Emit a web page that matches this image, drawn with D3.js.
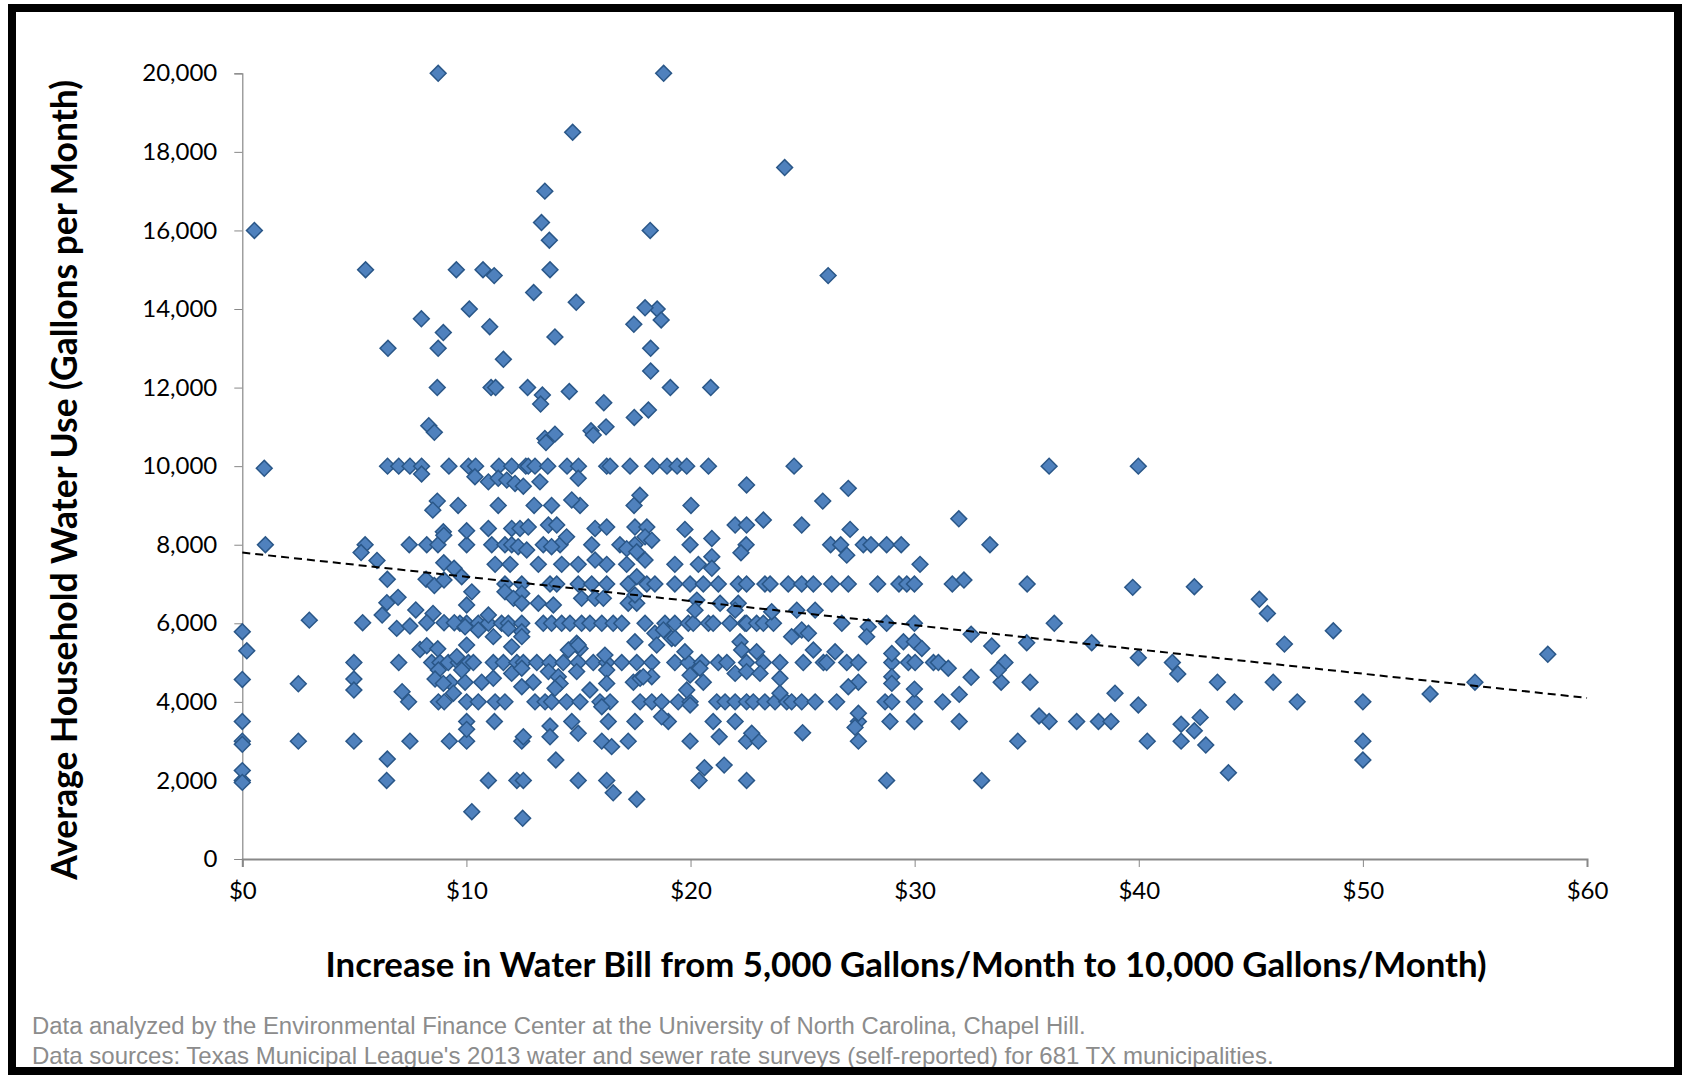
<!DOCTYPE html>
<html>
<head>
<meta charset="utf-8">
<script src="https://cdnjs.cloudflare.com/ajax/libs/d3/7.8.5/d3.min.js"></script>
<style>
  body { margin: 0; background: #fff; }
  svg { display: block; }
</style>
</head>
<body>
<svg id="chart"></svg>
<script>

// bill increase ($) of towns sitting exactly on a round usage level
var at20000 = [8.74, 18.8];
var at16000 = [0.54, 18.2];
var at15000 = [5.5, 9.55, 10.74, 13.73];
var at14000 = [10.13, 18.51];
var at13000 = [6.5, 8.74, 18.22];
var at12000 = [8.7, 11.1, 11.3, 12.73, 19.1, 20.9];
var at10000 = [6.48, 6.98, 7.48, 8.0, 9.22, 10.09, 10.41, 11.45, 12.02, 12.65, 12.76, 13.06, 13.63, 14.49, 15.0,
    16.26, 16.41, 17.3, 18.31, 18.95, 19.4, 19.83, 20.8, 24.62, 36.0, 39.98];
var at9000 = [9.63, 11.42, 13.02, 13.8, 15.07, 17.48, 20.02];
var at8000 = [1.03, 5.48, 7.45, 8.23, 8.73, 10.01, 11.13, 11.72, 12.02, 13.43, 14.18, 15.59, 16.85, 17.52, 19.98,
    22.48, 26.25, 26.7, 27.71, 28.05, 28.75, 29.4, 33.36];
var at7500 = [11.28, 11.95, 13.21, 14.25, 14.99, 16.26, 17.15, 19.3, 20.35, 30.24];
var at7000 = [11.72, 12.47, 13.73, 14.03, 14.99, 15.59, 16.26, 17.22, 18.05, 18.41, 19.3, 19.98, 20.57, 21.24,
    22.13, 22.5, 23.32, 23.55, 24.36, 24.96, 25.48, 26.3, 27.04, 28.35, 29.3, 29.65, 29.99, 31.68, 35.02];
var at6000 = [9.71, 10.01, 10.53, 10.98, 11.57, 11.87, 12.47, 13.43, 13.8, 14.25, 14.62, 15.14, 15.51, 16.04,
    16.55, 16.93, 17.97, 18.86, 19.3, 19.9, 20.12, 20.8, 21.01, 21.76, 22.43, 22.5, 22.95, 23.25, 23.7, 26.75,
    28.75, 29.99, 36.23];
var at5000 = [4.98, 6.98, 8.45, 8.82, 9.19, 9.64, 10.09, 10.31, 11.2, 11.65, 12.25, 12.54, 13.14, 13.73, 14.32,
    14.99, 15.66, 16.26, 16.93, 17.6, 18.27, 19.3, 19.9, 20.5, 21.24, 21.62, 22.5, 23.25, 23.99, 25.03, 25.93,
    26.07, 26.97, 27.49, 28.98, 29.72, 30.02, 30.84, 31.06, 34.03, 41.5];
var at4500 = [9.27, 9.94, 10.68, 12.98, 17.45, 20.57, 27.49, 33.86, 35.15, 43.51, 46.0, 55.0];
var at4000 = [7.42, 8.75, 9.01, 10.01, 10.53, 11.28, 11.72, 13.06, 13.51, 13.8, 14.47, 15.07, 15.96, 16.41, 17.75,
    18.27, 18.71, 19.45, 19.98, 21.17, 21.54, 21.99, 22.5, 22.8, 23.32, 23.77, 24.29, 24.51, 24.96, 25.56, 26.52,
    28.68, 28.98, 29.99, 31.25, 44.27, 47.07, 50.0];
var at3500 = [0, 10.01, 11.25, 14.7, 16.33, 17.52, 19.01, 21.01, 21.99, 27.49, 28.9, 29.99, 31.99, 36.0, 37.23,
    38.2, 38.76];
var at3000 = [0, 2.5, 4.98, 7.48, 9.24, 10.01, 12.47, 16.04, 17.22, 19.98, 22.5, 23.03, 27.49, 34.6, 40.38,
    41.89, 50.0];
var at2000 = [0, 6.44, 10.98, 12.25, 12.54, 14.99, 16.26, 20.38, 22.5, 28.75, 32.99];

// the rest: [bill increase $, gallons per month]
var scatterHigh = [[14.74, 18500], [24.2, 17600], [13.5, 17000], [13.35, 16200], [13.7, 15750], [11.24, 14850],
    [26.14, 14850], [13.0, 14420], [14.9, 14170], [17.97, 14030], [18.69, 13720], [17.47, 13610], [7.99, 13750],
    [8.97, 13400], [11.04, 13550], [13.95, 13290], [11.65, 12720], [18.22, 12420], [14.59, 11900],
    [13.39, 11810], [13.31, 11580], [16.13, 11615], [17.49, 11240], [18.12, 11430], [13.5, 10705], [13.55, 10600],
    [13.95, 10815], [15.56, 10900], [15.66, 10790], [16.23, 11000], [8.32, 11030], [8.57, 10860]];

var scatterMid = [[0.98, 9945], [8.0, 9800], [10.38, 9730], [10.98, 9600], [11.42, 9690], [11.8, 9645],
    [12.17, 9560], [12.54, 9490], [13.28, 9600], [14.99, 9690], [22.5, 9520], [27.04, 9435],
    [8.7, 9110], [8.5, 8880], [14.7, 9140], [17.74, 9260], [25.9, 9110],
    [8.97, 8330], [8.99, 8240], [10.01, 8355], [10.98, 8415], [12.02, 8415], [12.39, 8415], [12.76, 8450],
    [13.66, 8500], [14.03, 8500], [15.74, 8415], [16.26, 8450], [17.52, 8450], [18.05, 8450], [19.75, 8390],
    [21.99, 8500], [22.5, 8500], [23.25, 8630], [24.96, 8500], [27.12, 8390], [31.97, 8660],
    [12.31, 7950], [12.69, 7865], [13.8, 7950], [14.47, 8200], [17.15, 7900], [17.97, 8200], [18.27, 8115],
    [17.6, 7820], [20.95, 8160], [22.25, 7795], [26.97, 7735], [5.3, 7800],
    [6.01, 7600], [8.99, 7540], [9.45, 7400], [15.74, 7610], [17.97, 7610], [20.95, 7695], [20.95, 7400],
    [6.47, 7120], [8.2, 7120], [8.57, 6960], [9.0, 7100], [9.79, 7185], [17.6, 7185], [32.2, 7100],
    [6.95, 6660], [6.45, 6525], [6.24, 6210], [7.74, 6340], [8.51, 6250],
    [10.24, 6800], [11.72, 6800], [12.47, 6760], [12.1, 6635], [12.47, 6510], [13.21, 6510], [13.88, 6465],
    [15.14, 6635], [15.74, 6635], [16.11, 6635], [17.22, 6510], [17.6, 6510], [17.52, 6720], [10.01, 6465],
    [20.28, 6590], [20.2, 6335], [21.32, 6510], [22.13, 6510], [21.99, 6335], [23.62, 6295], [24.74, 6335],
    [25.56, 6335], [10.98, 6210], [39.73, 6915], [42.48, 6930], [45.38, 6610], [45.74, 6250],
    [2.99, 6080], [5.37, 6015], [8.23, 6015], [9.0, 6015], [9.46, 6015]];

var scatterLow = [[6.89, 5870], [7.48, 5930], [9.94, 5910], [10.53, 5830], [11.87, 5870], [12.47, 5785],
    [0, 5785], [27.93, 5910], [27.86, 5660], [48.68, 5810],
    [11.2, 5660], [12.02, 5400], [12.47, 5660], [14.92, 5490], [15.07, 5360], [17.52, 5530], [18.41, 5745],
    [18.49, 5445], [19.16, 5615], [18.79, 5830], [10.01, 5445], [19.31, 5620], [24.51, 5660], [24.96, 5830],
    [25.26, 5745], [22.21, 5530], [25.48, 5320], [26.45, 5275], [19.75, 5275], [22.28, 5320], [22.95, 5275],
    [28.98, 5230], [29.5, 5530], [29.99, 5530], [30.32, 5360], [32.52, 5720], [33.44, 5420], [35.0, 5505],
    [37.9, 5505], [46.5, 5470], [58.25, 5210], [39.98, 5125],
    [0.2, 5300], [7.93, 5335], [8.23, 5430], [8.72, 5350], [9.57, 5150], [14.55, 5320], [14.99, 5445],
    [16.18, 5190],
    [8.75, 4810], [9.79, 4810], [12.02, 4725], [12.47, 4855], [13.66, 4770], [14.1, 4640], [14.92, 4770],
    [16.26, 4810], [17.75, 4600], [18.27, 4640], [19.98, 4680], [20.42, 4855], [21.99, 4725], [22.5, 4770],
    [23.1, 4725], [23.99, 4600], [28.98, 4640], [31.5, 4855], [33.73, 4810], [32.52, 4625], [41.74, 4710],
    [0, 4570], [2.5, 4460], [4.98, 4580], [8.6, 4580], [8.97, 4470], [11.2, 4600], [14.18, 4470],
    [16.26, 4470], [17.89, 4640], [28.98, 4470],
    [13.95, 4345], [12.47, 4385], [15.51, 4300], [27.04, 4385], [29.99, 4325], [19.83, 4300], [4.98, 4300],
    [7.13, 4260], [9.42, 4220], [23.99, 4220], [31.99, 4190], [38.94, 4220], [53.0, 4200],
    [16.04, 3875], [19.98, 3920], [39.98, 3920], [18.71, 3620], [27.49, 3710], [35.55, 3640], [42.74, 3605],
    [13.73, 3385], [27.34, 3350], [41.89, 3430], [42.48, 3265], [10.01, 3300], [14.99, 3200], [22.73, 3200],
    [25.0, 3215], [12.54, 3110], [13.73, 3110], [21.28, 3110],
    [0, 2920], [16.48, 2860], [42.99, 2900], [6.47, 2545], [13.99, 2520], [50.0, 2520], [20.62, 2325],
    [21.5, 2390], [0, 2250], [44.0, 2195], [0, 1950], [16.55, 1685], [17.6, 1520], [10.24, 1205],
    [12.51, 1035]];

// linear trendline as drawn in the chart (ends at $0 and $60)
var trendX = [0, 60];
var trendY = [7800, 4100];

var xTicks = [0, 10, 20, 30, 40, 50, 60];
var yTicks = [0, 2000, 4000, 6000, 8000, 10000, 12000, 14000, 16000, 18000, 20000];

var xTitle = "Increase in Water Bill from 5,000 Gallons/Month to 10,000 Gallons/Month)";
var yTitle = "Average Household Water Use (Gallons per Month)";
var notes = ["Data analyzed by the Environmental Finance Center at the University of North Carolina, Chapel Hill.",
    "Data sources: Texas Municipal League's 2013 water and sewer rate surveys (self-reported) for 681 TX municipalities."];


var svgWidth = 1683;
var svgHeight = 1078;
var font = "Lato, 'Open Sans', sans-serif";

var levels = [[20000, at20000], [16000, at16000], [15000, at15000], [14000, at14000], [13000, at13000],
    [12000, at12000], [10000, at10000], [9000, at9000], [8000, at8000], [7500, at7500], [7000, at7000],
    [6000, at6000], [5000, at5000], [4500, at4500], [4000, at4000], [3500, at3500], [3000, at3000],
    [2000, at2000]];

var data = [];
levels.forEach(function(l) {
    l[1].forEach(function(b) { data.push({bill: b, use: l[0]}); });
});
scatterHigh.concat(scatterMid, scatterLow).forEach(function(p) {
    data.push({bill: p[0], use: p[1]});
});

var xScale = d3.scaleLinear().domain([0, 60]).range([242.3, 1587]);
var yScale = d3.scaleLinear().domain([0, 20000]).range([859, 73.3]);

var svg = d3.select('#chart')
    .attr("width", svgWidth)
    .attr("height", svgHeight);

svg.append("rect")
    .attr("width", svgWidth)
    .attr("height", svgHeight)
    .attr("fill", "#fff");

//y axis
var yAxis = svg.append("g")
    .attr("transform", "translate(" + xScale(0) + ",0)")
    .call(d3.axisLeft(yScale).tickValues(yTicks).tickSize(8).tickPadding(17).tickFormat(d3.format(",")));

//x axis
var xAxis = svg.append("g")
    .attr("transform", "translate(0," + yScale(0) + ")")
    .call(d3.axisBottom(xScale).tickValues(xTicks).tickSize(8).tickPadding(15).tickFormat(function(d) { return "$" + d; }));

svg.selectAll(".domain, .tick line").attr("stroke", "#888");
yAxis.select(".domain").attr("stroke-width", 1.2);
xAxis.select(".domain").attr("stroke-width", 2);
svg.selectAll(".tick text")
    .attr("fill", "#000")
    .style("font-family", font)
    .style("font-size", "24px");

//points
var diamond = d3.symbol().type(d3.symbolSquare).size(125);

svg.append("g")
    .selectAll("path")
    .data(data)
    .enter()
    .append("path")
    .attr("d", diamond)
    .attr("transform", function(d) {
        return "translate(" + xScale(d.bill) + "," + yScale(d.use) + ") rotate(45)";
    })
    .attr("fill", "#4F81BD")
    .attr("stroke", "#2A5788")
    .attr("stroke-width", 1.5);

//trendline
var line = d3.line()
    .x(function(d) { return xScale(d[0]); })
    .y(function(d) { return yScale(d[1]); });

svg.append("path")
    .attr("d", line(d3.zip(trendX, trendY)))
    .attr("fill", "none")
    .attr("stroke", "#000")
    .attr("stroke-width", 2)
    .attr("stroke-dasharray", "8,5");

// shrink or grow a text so that it spans the given width
function fitText(sel, width, size) {
    sel.style("font-size", size + "px");
    var len = sel.node().getComputedTextLength();
    sel.style("font-size", (size * width / len) + "px");
}

var xt = svg.append("text")
    .attr("x", 906)
    .attr("y", 977)
    .attr("text-anchor", "middle")
    .style("font-family", font)
    .style("font-weight", "bold")
    .text(xTitle);
fitText(xt, 1161, 31);

var yt = svg.append("text")
    .attr("transform", "translate(77,480) rotate(-90)")
    .attr("text-anchor", "middle")
    .style("font-family", font)
    .style("font-weight", "bold")
    .text(yTitle);
fitText(yt, 800, 31);

var noteWidths = [1054, 1242];
notes.forEach(function(n, i) {
    var t = svg.append("text")
        .attr("x", 32)
        .attr("y", 1034 + i * 30)
        .attr("fill", "#8c8c8c")
        .style("font-family", "'Liberation Sans', Arial, sans-serif")
        .text(n);
    fitText(t, noteWidths[i], 20);
});

//frame
svg.append("rect")
    .attr("x", 12)
    .attr("y", 8)
    .attr("width", 1666)
    .attr("height", 1063)
    .attr("fill", "none")
    .attr("stroke", "#000")
    .attr("stroke-width", 8);

</script>
</body>
</html>
